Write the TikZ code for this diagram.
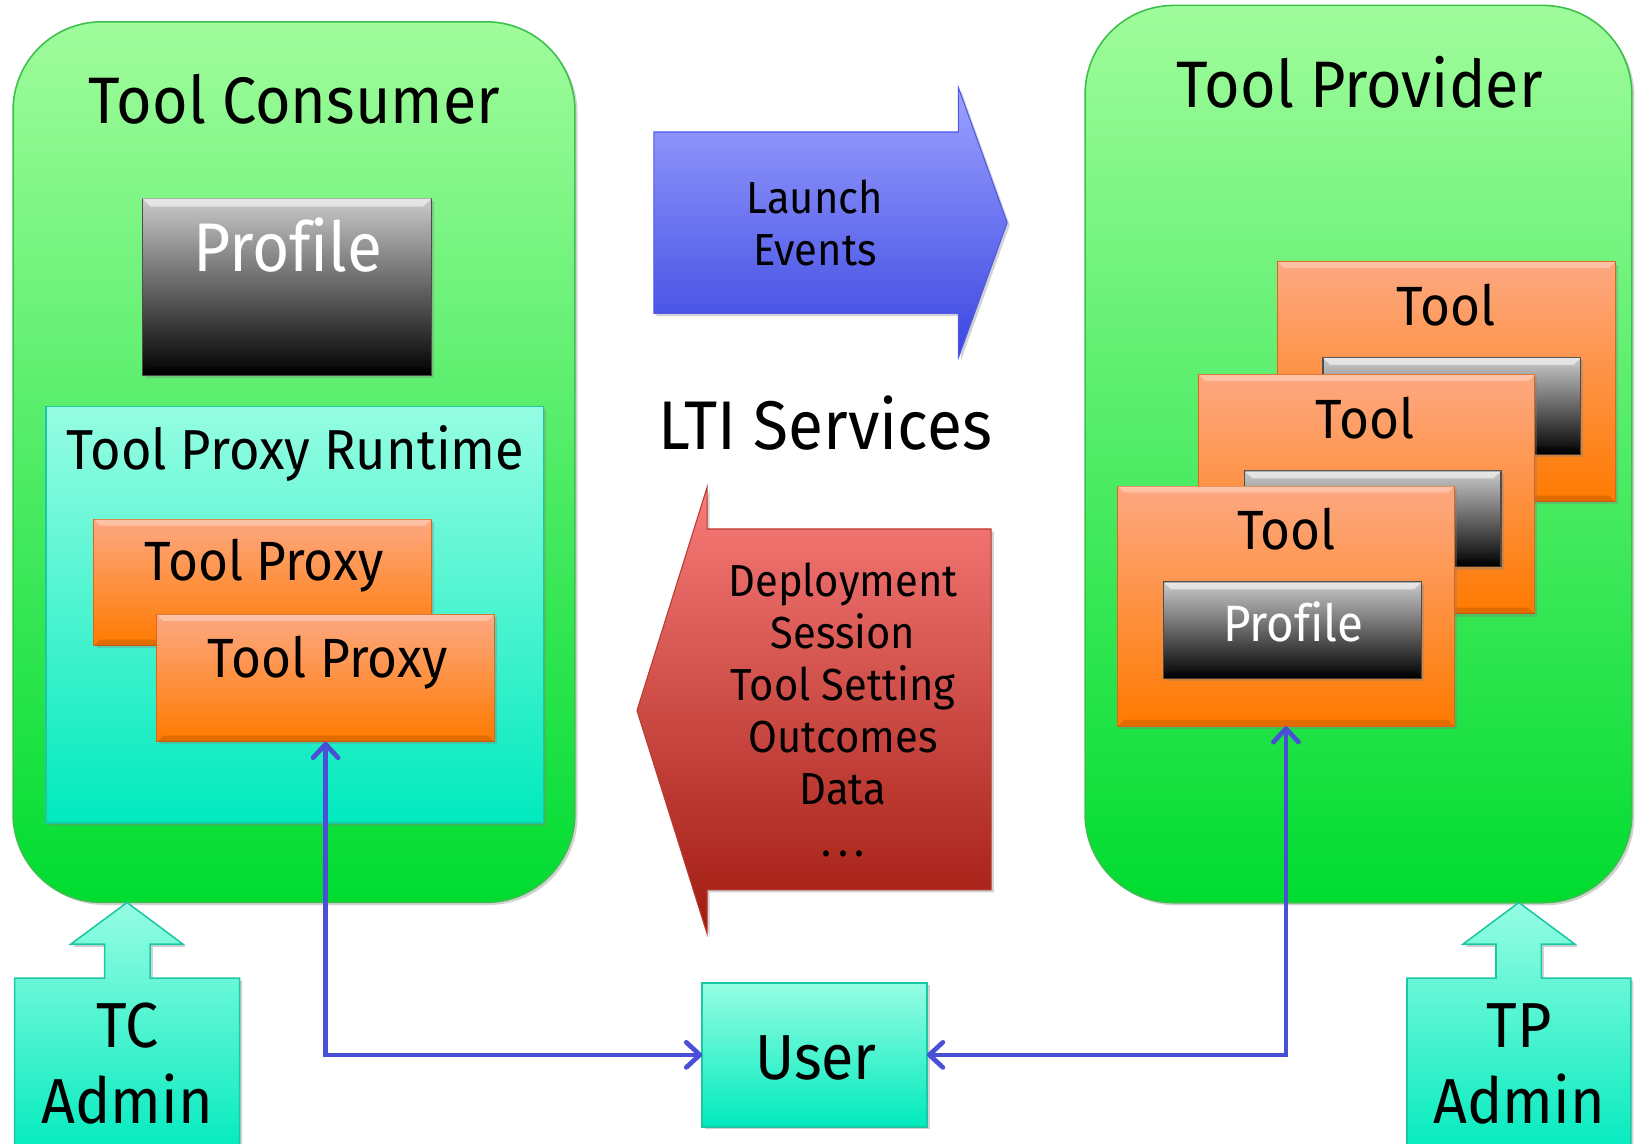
\documentclass[tikz,border=0pt]{standalone}
\usepackage{fontspec}
\setmainfont{Fira Sans}[FakeStretch=0.93,Ligatures=NoCommon]
\usetikzlibrary{shadows,arrows.meta}
\definecolor{grntop}{HTML}{A0FC9C}
\definecolor{grnbot}{HTML}{00DC30}
\definecolor{grnline}{HTML}{3CC04C}
\definecolor{cyntop}{HTML}{96FDE2}
\definecolor{cynbot}{HTML}{00EABE}
\definecolor{cynline}{HTML}{1CC8A4}
\definecolor{orgtop}{HTML}{FDA882}
\definecolor{orgbot}{HTML}{FF7A00}
\definecolor{orgline}{HTML}{D8691C}
\definecolor{proftop}{HTML}{CACACA}
\definecolor{profmid}{HTML}{6A6A6A}
\definecolor{profbot}{HTML}{000000}
\definecolor{blutop}{HTML}{9CA2FF}
\definecolor{blubot}{HTML}{3A46E0}
\definecolor{bluline}{HTML}{5058E8}
\definecolor{redtop}{HTML}{F87C7A}
\definecolor{redbot}{HTML}{A01A10}
\definecolor{redline}{HTML}{B83A30}
\definecolor{connc}{HTML}{4A50D6}
\newcommand\fsBig{\fontsize{63}{70}\selectfont}
\newcommand\fsBigger{\fontsize{66}{72}\selectfont}
\newcommand\fsMid{\fontsize{53}{60}\selectfont}
\newcommand\fsRun{\fontsize{54}{60}\selectfont}
\newcommand\fsPro{\fontsize{49}{56}\selectfont}
\newcommand\fsSmall{\fontsize{43}{50}\selectfont}
\newcommand\fsAdm{\fontsize{61}{70}\selectfont}
% bevel: node name, depth, top opacity, bottom opacity
\newcommand\bevelbox[4]{%
  \fill[white,opacity=#3] (#1.north west) -- (#1.north east) -- ([xshift=-#2,yshift=-#2]#1.north east) -- ([xshift=#2,yshift=-#2]#1.north west) -- cycle;
  \fill[black,opacity=#4] (#1.south west) -- (#1.south east) -- ([xshift=-#2,yshift=#2]#1.south east) -- ([xshift=#2,yshift=#2]#1.south west) -- cycle;}
\begin{document}
\begin{tikzpicture}[x=1pt,y=-1pt,
  shad/.style={drop shadow={opacity=0.35,shadow xshift=2.5pt,shadow yshift=-2.5pt}},
  boxbase/.style={inner sep=0pt,outer sep=0pt,anchor=north west,shad},
  greenbox/.style={boxbase,draw=grnline,line width=1.5pt,rounded corners=85pt,top color=grntop,bottom color=grnbot},
  cyanbox/.style={boxbase,draw=cynline,line width=1.5pt,top color=cyntop,bottom color=cynbot},
  orangebox/.style={boxbase,draw=orgline,line width=1pt,top color=orgtop,bottom color=orgbot},
  profbox/.style={boxbase,draw=black!70,line width=1pt,top color=proftop,middle color=profmid,bottom color=profbot},
  lbl/.style={anchor=base,inner sep=0pt,outer sep=0pt,text=black},
  conn/.style={draw=connc,line width=4.5pt,{Straight Barb[length=13pt,width=24pt,round]}-{Straight Barb[length=13pt,width=24pt,round]}}
]
\useasboundingbox (0,0) rectangle (1568,1095.5);
\fill[white] (0,0) rectangle (1568,1095.5);

% Tool Consumer
\node[greenbox,minimum width=538.5pt,minimum height=844pt] (tc) at (12.5,20.9) {};
\node[lbl,font=\fsBig] (tctitle) at (282,118.5) {Tool Consumer};
\node[profbox,minimum width=277.3pt,minimum height=169.6pt] (tcprof) at (136.3,190) {};
\bevelbox{tcprof}{8pt}{0.55}{0.35}
\node[lbl,font=\fsBigger,text=white] (tcproft) at (275.8,260) {Profile};
\node[cyanbox,minimum width=477pt,minimum height=399.4pt] (run) at (44,389.6) {};
\node[lbl,font=\fsRun] (runt) at (283,450) {Tool Proxy Runtime};
\node[orangebox,minimum width=323.6pt,minimum height=121.3pt] (tp1) at (90,497.7) {};
\bevelbox{tp1}{6pt}{0.3}{0.12}
\node[lbl,font=\fsMid] (tp1t) at (253,556) {Tool Proxy};
\node[orangebox,minimum width=323.3pt,minimum height=122pt] (tp2) at (150.4,589) {};
\bevelbox{tp2}{6pt}{0.3}{0.12}
\node[lbl,font=\fsMid] (tp2t) at (314,649.6) {Tool Proxy};

% Tool Provider
\node[greenbox,minimum width=524pt,minimum height=860pt] (tpv) at (1040,5.2) {};
\node[lbl,font=\fsBig] (tpvt) at (1303,102.8) {Tool Provider};
\node[orangebox,minimum width=323.3pt,minimum height=230pt] (tool3) at (1224.7,251) {};
\bevelbox{tool3}{6pt}{0.3}{0.12}
\node[lbl,font=\fsMid] (tool3t) at (1386,312) {Tool};
\node[profbox,minimum width=247pt,minimum height=92.6pt] (prof3) at (1268,343) {};
\bevelbox{prof3}{7pt}{0.55}{0.35}
\node[orangebox,minimum width=322pt,minimum height=229.4pt] (tool2) at (1149,359) {};
\bevelbox{tool2}{6pt}{0.3}{0.12}
\node[lbl,font=\fsMid] (tool2t) at (1308,420) {Tool};
\node[profbox,minimum width=245.6pt,minimum height=92pt] (prof2) at (1193,451.4) {};
\bevelbox{prof2}{7pt}{0.55}{0.35}
\node[orangebox,minimum width=322.2pt,minimum height=230pt] (tool1) at (1071.4,466) {};
\bevelbox{tool1}{6pt}{0.3}{0.12}
\node[lbl,font=\fsMid] (tool1t) at (1233,526.3) {Tool};
\node[profbox,minimum width=247.1pt,minimum height=92.6pt] (prof1) at (1115.4,557.8) {};
\bevelbox{prof1}{7pt}{0.55}{0.35}
\node[lbl,font=\fsPro,text=white] (prof1t) at (1239.5,614.6) {Profile};

% Launch Events arrow
\path[shad,draw=bluline,line width=1pt,top color=blutop,bottom color=blubot]
  (626.6,126.5) -- (918.5,126.5) -- (918.5,83.7) -- (965.3,213.3) -- (918.5,343) -- (918.5,300.4) -- (626.6,300.4) -- cycle;
\node[lbl,font=\fsSmall] (la1) at (781,205) {Launch};
\node[lbl,font=\fsSmall] (la2) at (781,254.4) {Events};

\node[lbl,font=\fsBigger] (lti) at (790.8,430.4) {LTI Services};

% Services arrow
\path[shad,draw=redline,line width=1pt,top color=redtop,bottom color=redbot]
  (950,507) -- (677.7,507) -- (677.7,467) -- (610.5,681) -- (677.7,895) -- (677.7,852.8) -- (950,852.8) -- cycle;
\node[lbl,font=\fsSmall] (s1) at (808,571.4) {Deployment};
\node[lbl,font=\fsSmall] (s2) at (808,621.4) {Session};
\node[lbl,font=\fsSmall] (s3) at (808,671.4) {Tool Setting};
\node[lbl,font=\fsSmall] (s4) at (808,721.4) {Outcomes};
\node[lbl,font=\fsSmall] (s5) at (808,771.4) {Data};
\node[lbl,font=\fsSmall] (s6) at (808,820.5) {.\kern6pt.\kern6pt.};

% Admin callouts
\path[shad,draw=cynline,line width=1.5pt,top color=cyntop,bottom color=cynbot]
  (14,937.4) -- (100.3,937.4) -- (100.3,905) -- (67.7,905) -- (121.8,865) -- (175.5,905) -- (143.9,905) -- (143.9,937.4) -- (229.6,937.4) -- (229.6,1110) -- (14,1110) -- cycle;
\node[lbl,font=\fsAdm] (tca1) at (122,1003.5) {TC};
\node[lbl,font=\fsAdm] (tca2) at (122,1077) {Admin};
\path[shad,draw=cynline,line width=1.5pt,top color=cyntop,bottom color=cynbot]
  (1348.5,937.4) -- (1433.8,937.4) -- (1433.8,905) -- (1402,905) -- (1455.75,865) -- (1509.5,905) -- (1477.3,905) -- (1477.3,937.4) -- (1563,937.4) -- (1563,1110) -- (1348.5,1110) -- cycle;
\node[lbl,font=\fsAdm] (tpa1) at (1456,1003.5) {TP};
\node[lbl,font=\fsAdm] (tpa2) at (1456,1077) {Admin};

% User
\node[cyanbox,minimum width=215.4pt,minimum height=138pt] (user) at (673,942) {};
\node[lbl,font=\fsAdm] (usert) at (782,1035) {User};

% connectors
\draw[conn] (tp2.south) |- (user.west);
\draw[conn] (tool1.south) |- (user.east);
\end{tikzpicture}
\end{document}
